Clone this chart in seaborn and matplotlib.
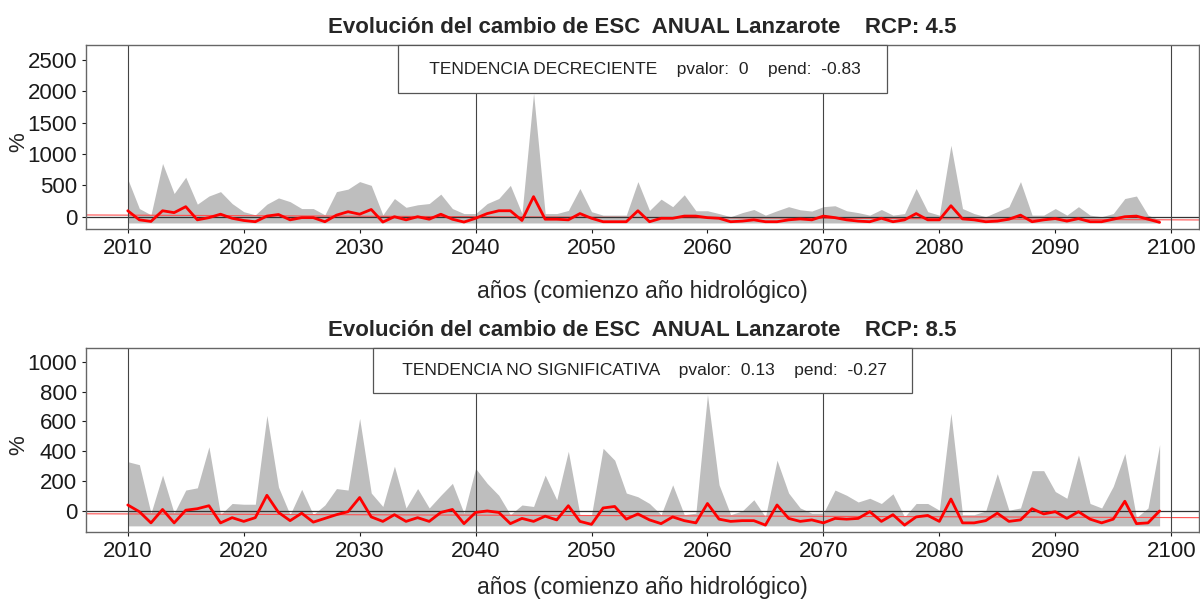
import numpy as np
import pandas as pd
import matplotlib
matplotlib.use("Agg")
import matplotlib.pyplot as plt
from matplotlib.offsetbox import AnchoredText
import seaborn as sns

years = list(range(2010, 2100))

# RCP 4.5
upper_45 = [600, 130, 30, 850, 370, 630, 200, 330, 400, 210,
            80, 30, 200, 300, 240, 130, 130, 30, 400, 440,
            560, 500, 30, 290, 150, 190, 210, 360, 130, 50,
            50, 210, 290, 500, 50, 1970, 50, 50, 100, 450,
            80, 25, 25, 25, 560, 100, 280, 160, 350, 95,
            95, 50, 0, 65, 115, 25, 95, 160, 110, 90,
            160, 175, 95, 65, 25, 115, 25, 50, 450, 80,
            25, 1140, 130, 50, 0, 80, 160, 560, 25, 25,
            130, 25, 160, 25, 0, 50, 290, 330, 25, -50]
median_45 = [95, -50, -75, 95, 65, 160, -50, -15, 40, -25,
             -60, -80, 10, 35, -50, -15, -15, -80, 25, 80,
             40, 115, -85, 0, -50, 0, -40, 40, -40, -85,
             -25, 50, 95, 95, -60, 320, -40, -40, -50, 50,
             -25, -80, -80, -80, 95, -80, -25, -25, 10, 10,
             -15, -25, -80, -70, -50, -80, -80, -50, -35, -50,
             10, -15, -50, -70, -80, -25, -80, -50, 50, -50,
             -50, 175, -35, -50, -80, -70, -40, 25, -80, -50,
             -30, -70, -30, -80, -80, -40, 0, 10, -40, -90]
lower_45 = [-100] * 90

# RCP 8.5
upper_85 = [330, 310, -15, 240, -15, 140, 155, 430, -25, 50,
            45, 45, 640, 160, -25, 145, -25, 40, 150, 140,
            620, 120, 30, 300, 20, 150, 20, 105, 185, -15,
            285, 185, 105, -25, 40, 30, 240, 75, 400, -25,
            -25, 420, 340, 120, 95, 50, -25, 175, -25, -15,
            780, 175, -25, 0, 75, -40, 340, 120, 20, -15,
            -15, 140, 105, 60, 85, 50, 115, -40, 50, 50,
            5, 655, -25, -25, 0, 250, 5, 20, 270, 270,
            130, 85, 375, 50, 20, 165, 385, -45, 20, 445]
median_85 = [40, -5, -80, 10, -80, 5, 15, 35, -80, -45,
             -70, -45, 105, -10, -65, -15, -75, -50, -25, -5,
             90, -40, -70, -25, -70, -45, -70, -10, 10, -85,
             -10, 0, -10, -85, -50, -70, -35, -60, 35, -70,
             -90, 20, 30, -55, -20, -60, -85, -40, -65, -80,
             50, -55, -70, -65, -65, -95, 40, -50, -70, -60,
             -80, -50, -55, -50, -5, -70, -25, -95, -40, -30,
             -70, 80, -80, -80, -65, -15, -70, -60, 15, -20,
             -5, -50, -5, -55, -80, -55, 65, -85, -80, 0]
lower_85 = [-100] * 90

# trend: value at 2010 and slope (pend)
trend_45 = (25, -0.83)
trend_85 = (-20, -0.27)

titles = ["Evolución del cambio de ESC  ANUAL Lanzarote    RCP: 4.5",
          "Evolución del cambio de ESC  ANUAL Lanzarote    RCP: 8.5"]
boxes = ["   TENDENCIA DECRECIENTE    pvalor:  0    pend:  -0.83  ",
         "   TENDENCIA NO SIGNIFICATIVA    pvalor:  0.13    pend:  -0.27  "]

sns.set_style("white")
plt.rcParams["font.family"] = ["Liberation Sans", "DejaVu Sans"]

fig = plt.figure(figsize=(12, 6.02), dpi=100)
ax1 = fig.add_axes([0.0717, 0.6196, 0.9275, 0.3056])
ax2 = fig.add_axes([0.0717, 0.1163, 0.9275, 0.3056])

panels = [
    (ax1, upper_45, median_45, lower_45, trend_45, (-196, 2738), range(0, 2501, 500), -0.277, 0.95),
    (ax2, upper_85, median_85, lower_85, trend_85, (-141, 1092), range(0, 1001, 200), -0.24, 0.85),
]

for i, (ax, up, med, low, trend, ylim, yt, xlab_y, bpad) in enumerate(panels):
    df = pd.DataFrame({"year": years, "upper": up, "median": med, "lower": low})
    ax.fill_between(df["year"], df["lower"], df["upper"], color="#bebebe", lw=0, zorder=1)
    xl = np.array([2006.4, 2102.4])
    ax.plot(xl, trend[0] + trend[1] * (xl - 2010), color="#ff5050", lw=0.8, zorder=2)
    ax.axhline(0, color="#333333", lw=0.9, zorder=2)
    for v in [2010, 2040, 2070, 2100]:
        ax.axvline(v, color="#444444", lw=0.8, zorder=2)
    sns.lineplot(data=df, x="year", y="median", color="red", lw=2, ax=ax, zorder=3)

    ax.set_xlim(xl)
    ax.set_ylim(ylim)
    ax.set_xticks(range(2010, 2101, 10))
    ax.set_yticks(list(yt))
    ax.tick_params(labelsize=16, colors="#1a1a1a", length=3, bottom=True, left=True)
    for s in ax.spines.values():
        s.set_color("#666666")
        s.set_linewidth(1)
    ax.set_ylabel("%", fontsize=16)
    ax.yaxis.set_label_coords(-0.051, 0.47)
    ax.set_xlabel("años (comienzo año hidrológico)", fontsize=16.5)
    ax.xaxis.set_label_coords(0.5, xlab_y)
    ax.set_title(titles[i], fontsize=16, fontweight="bold", pad=9)

    at = AnchoredText(boxes[i], loc="upper center", borderpad=0, pad=bpad,
                      frameon=True, prop=dict(size=12.5, color="#222222"))
    at.patch.set_edgecolor("#555555")
    at.patch.set_linewidth(0.9)
    at.patch.set_boxstyle("square,pad=0")
    at.zorder = 6
    ax.add_artist(at)

plt.savefig("out.png", dpi=100)
